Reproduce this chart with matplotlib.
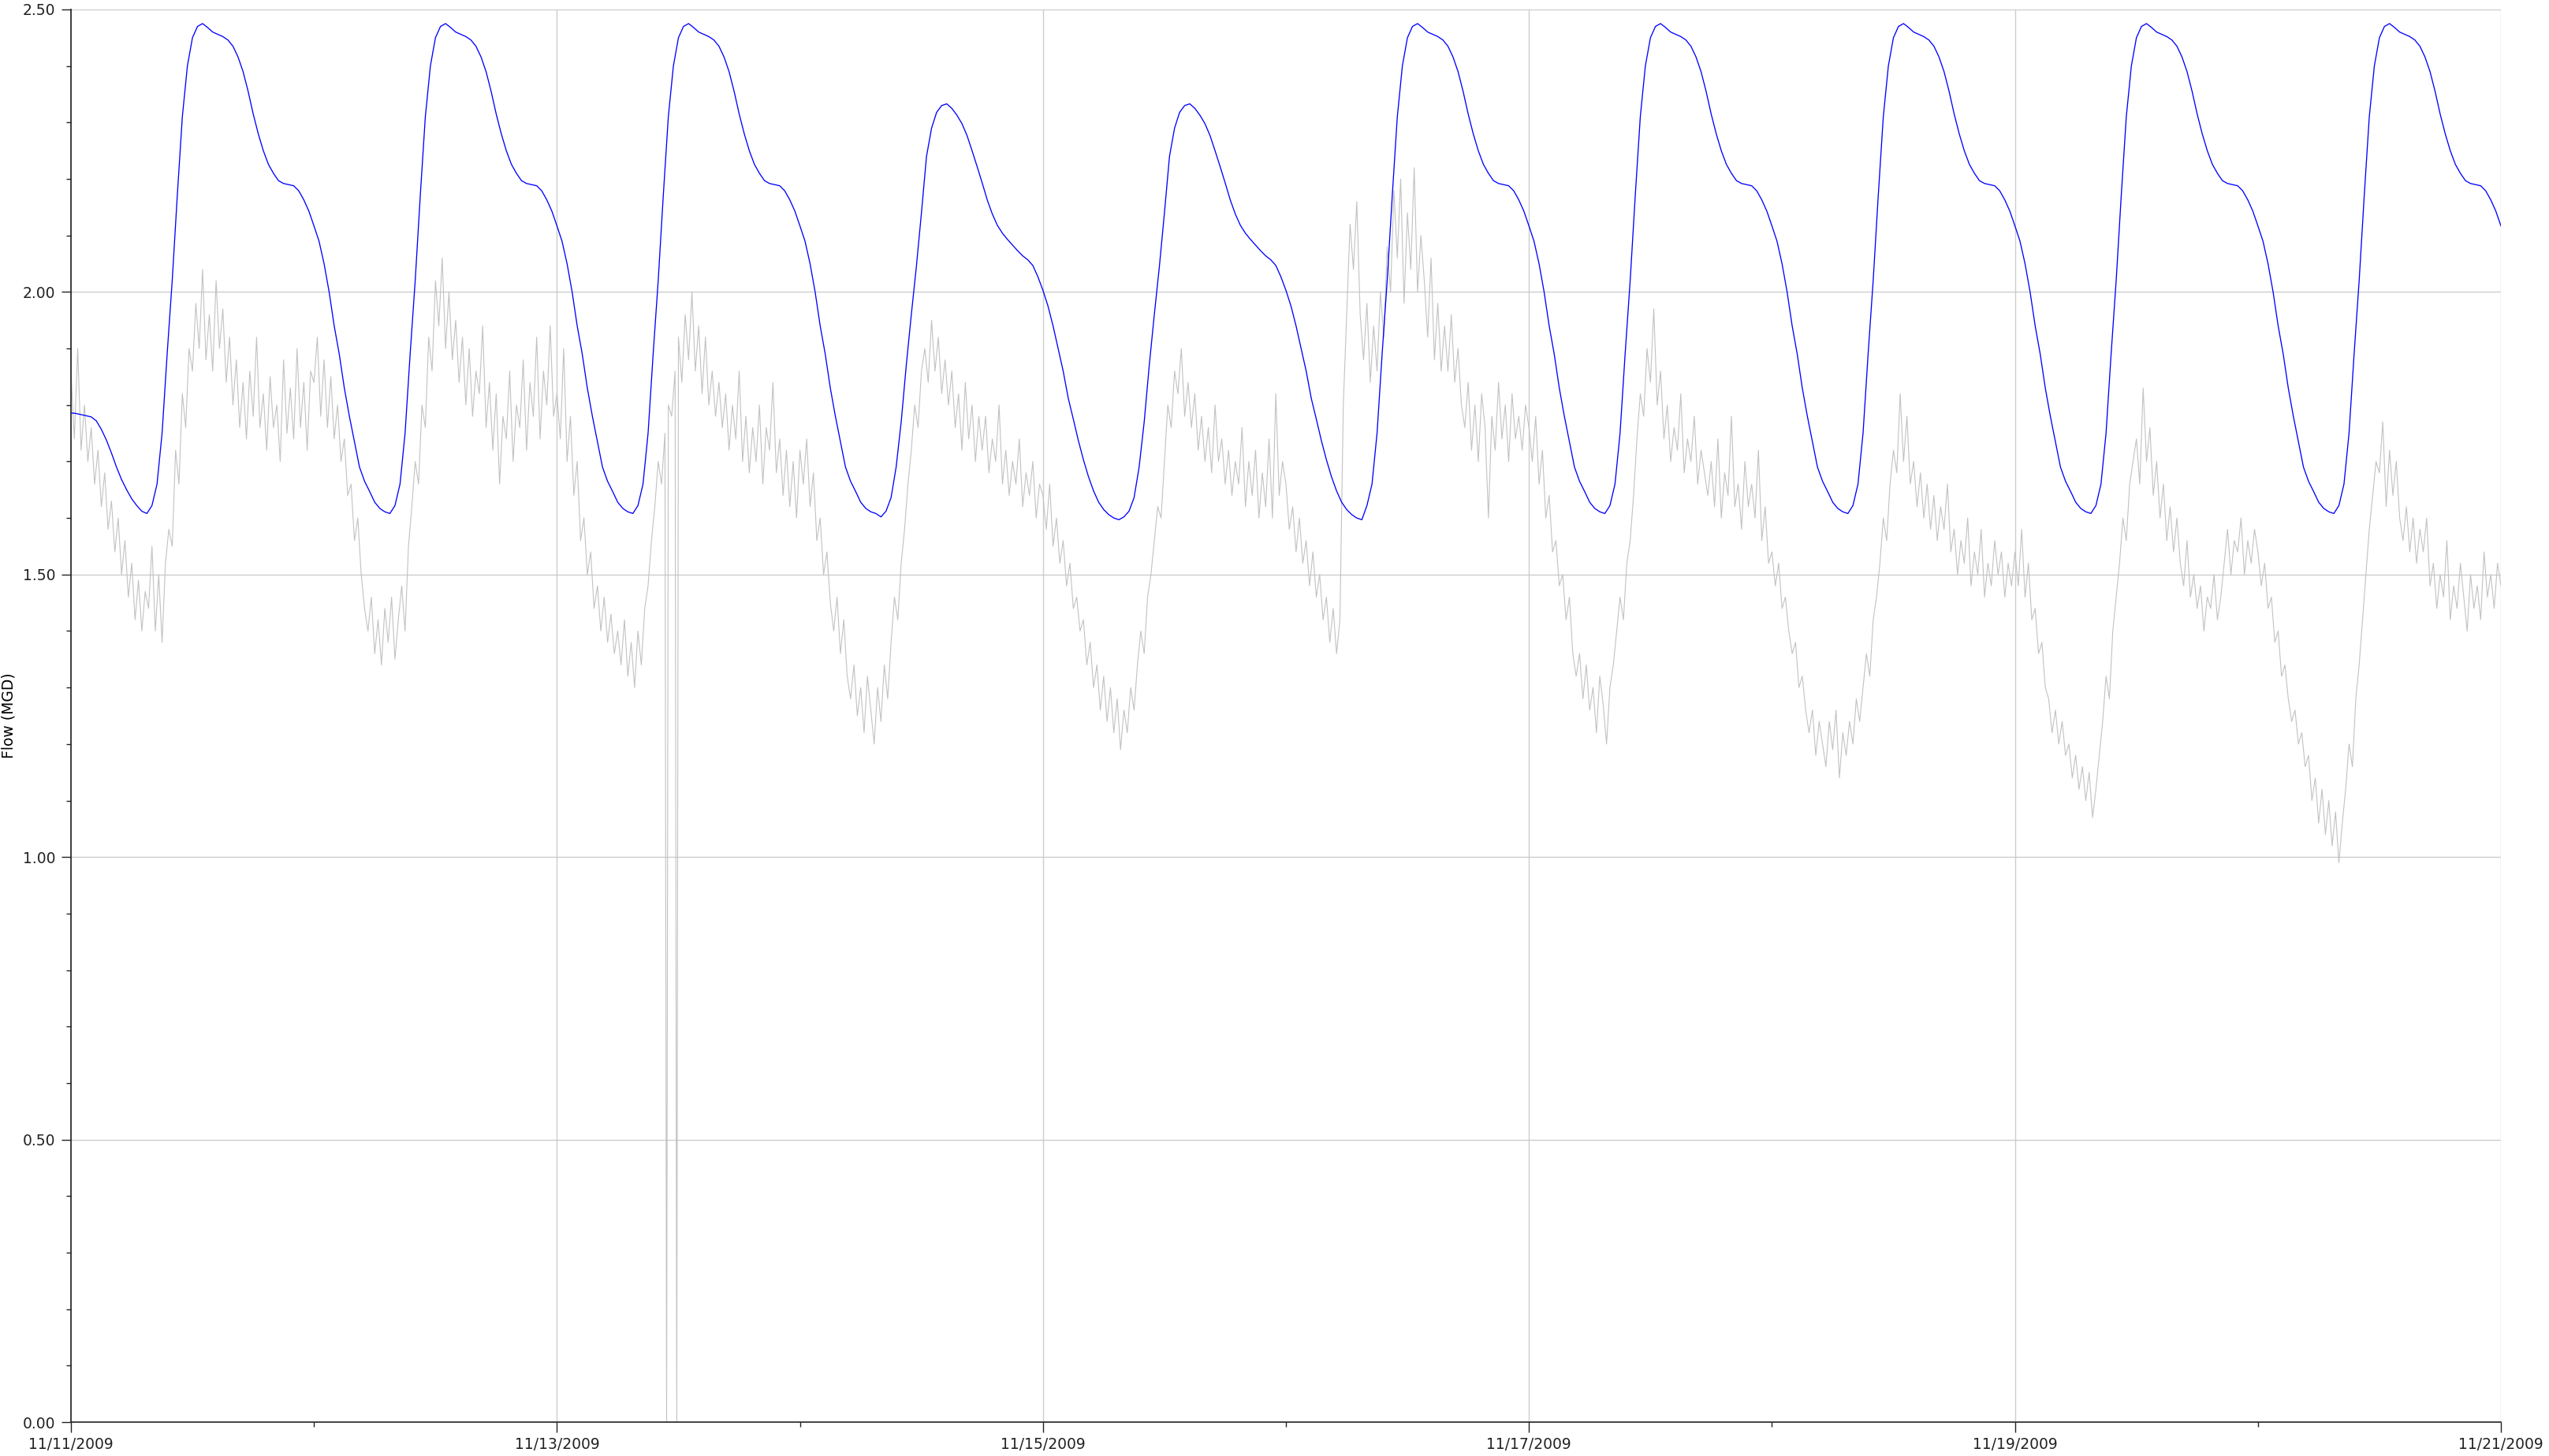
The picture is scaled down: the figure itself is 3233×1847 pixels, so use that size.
import pandas as pd
import numpy as np
import matplotlib
matplotlib.use('Agg')
import matplotlib.pyplot as plt
import matplotlib.dates as mdates
from matplotlib.ticker import MultipleLocator, FormatStrFormatter

start = pd.Timestamp('2009-11-11')
end = pd.Timestamp('2009-11-21')

# modelled flow (blue), half-hour values: night part (00:00-07:30) and day part (08:00-23:30)
blue_first_night = [1.786, 1.785, 1.783, 1.781, 1.779, 1.772, 1.757, 1.738, 1.715, 1.690, 1.668, 1.650, 1.634, 1.622, 1.612, 1.608]
blue_wkday_night = [2.117, 2.090, 2.050, 2.000, 1.940, 1.890, 1.830, 1.780, 1.735, 1.690, 1.665, 1.647, 1.628, 1.617, 1.611, 1.608]
blue_wkend_night = [2.003, 1.975, 1.940, 1.900, 1.860, 1.812, 1.775, 1.737, 1.703, 1.673, 1.648, 1.628, 1.615, 1.606, 1.600, 1.597]
blue_wkday_day = [1.622, 1.660, 1.750, 1.890, 2.020, 2.170, 2.310, 2.400, 2.450, 2.470, 2.475, 2.468, 2.460, 2.456, 2.452, 2.446,
                  2.435, 2.416, 2.390, 2.355, 2.315, 2.280, 2.250, 2.226, 2.210, 2.197, 2.192, 2.190, 2.188, 2.179, 2.163, 2.143]
blue_wkend_day = [1.602, 1.612, 1.636, 1.690, 1.770, 1.870, 1.960, 2.045, 2.140, 2.240, 2.290, 2.318, 2.330, 2.333, 2.325, 2.313,
                  2.298, 2.277, 2.250, 2.222, 2.193, 2.163, 2.138, 2.118, 2.104, 2.093, 2.083, 2.073, 2.064, 2.057, 2.047, 2.027]
blue_end = 2.117

night_type = ['first', 'wkday', 'wkday', 'wkday', 'wkend', 'wkend', 'wkday', 'wkday', 'wkday', 'wkday']
day_type = ['wkday', 'wkday', 'wkday', 'wkend', 'wkend', 'wkday', 'wkday', 'wkday', 'wkday', 'wkday']

# measured flow (gray), 20-minute values per day
gray_d0 = [1.86, 1.74, 1.90, 1.72, 1.80, 1.70, 1.76, 1.66, 1.72, 1.62, 1.68, 1.58, 1.63, 1.54, 1.60,
           1.50, 1.56, 1.46, 1.52, 1.42, 1.49, 1.40, 1.47, 1.44, 1.55, 1.40, 1.50, 1.38, 1.52,
           1.58, 1.55, 1.72, 1.66, 1.82, 1.76, 1.90, 1.86, 1.98, 1.90, 2.04, 1.88, 1.96, 1.86, 2.02, 1.90, 1.97, 1.84, 1.92,
           1.80, 1.88, 1.76, 1.84, 1.74, 1.86, 1.78, 1.92, 1.76, 1.82, 1.72, 1.85, 1.76, 1.80, 1.70, 1.88, 1.75, 1.83, 1.74, 1.90, 1.76, 1.84, 1.72, 1.86]
gray_d1 = [1.84, 1.92, 1.78, 1.88, 1.76, 1.85, 1.74, 1.80, 1.70, 1.74, 1.64, 1.66, 1.56, 1.60, 1.50,
           1.44, 1.40, 1.46, 1.36, 1.42, 1.34, 1.44, 1.38, 1.46, 1.35, 1.42, 1.48, 1.40,
           1.55, 1.62, 1.70, 1.66, 1.80, 1.76, 1.92, 1.86, 2.02, 1.94, 2.06, 1.90, 2.00, 1.88,
           1.95, 1.84, 1.92, 1.80, 1.90, 1.78, 1.86, 1.82, 1.94,
           1.76, 1.84, 1.72, 1.82, 1.66, 1.78, 1.74, 1.86, 1.70, 1.80, 1.76, 1.88, 1.72, 1.84, 1.78, 1.92, 1.74, 1.86, 1.80, 1.94, 1.78]
gray_d2 = [1.82, 1.74, 1.90, 1.70, 1.78, 1.64, 1.70, 1.56, 1.60, 1.50, 1.54, 1.44, 1.48, 1.40, 1.46, 1.38, 1.43,
           1.36, 1.40, 1.34, 1.42, 1.32, 1.38, 1.30, 1.40, 1.34, 1.44, 1.48, 1.56, 1.62, 1.70, 1.66, 1.75, 1.80, 1.78, 1.86,
           1.92, 1.84, 1.96, 1.88, 2.00, 1.86, 1.94, 1.82, 1.92, 1.80, 1.86, 1.78,
           1.84, 1.76, 1.82, 1.72, 1.80, 1.74, 1.86, 1.70, 1.78, 1.68,
           1.76, 1.70, 1.80, 1.66, 1.76, 1.72, 1.84, 1.68, 1.74, 1.64, 1.72, 1.62, 1.70, 1.60]
gray_d3 = [1.72, 1.66, 1.74, 1.62, 1.68, 1.56, 1.60, 1.50, 1.54, 1.45, 1.40, 1.46, 1.36, 1.42, 1.32,
           1.28, 1.34, 1.25, 1.30, 1.22, 1.32, 1.26, 1.20, 1.30, 1.24, 1.34, 1.28,
           1.38, 1.46, 1.42, 1.52, 1.58, 1.66, 1.72, 1.80, 1.76, 1.86, 1.90, 1.84, 1.95, 1.86, 1.92, 1.82, 1.88, 1.80,
           1.86, 1.76, 1.82, 1.72, 1.84, 1.74, 1.80, 1.70, 1.78, 1.72,
           1.78, 1.68, 1.74, 1.70, 1.80, 1.66, 1.72, 1.64, 1.70, 1.66, 1.74, 1.62, 1.68, 1.64, 1.70, 1.60, 1.66]
gray_d4 = [1.64, 1.58, 1.66, 1.55, 1.60, 1.52, 1.56, 1.48, 1.52, 1.44, 1.46, 1.40, 1.42,
           1.34, 1.38, 1.30, 1.34, 1.26, 1.32, 1.24, 1.30, 1.22, 1.28, 1.19, 1.26, 1.22, 1.30, 1.26,
           1.34, 1.40, 1.36, 1.46, 1.50, 1.56, 1.62, 1.60, 1.70, 1.80, 1.76, 1.86, 1.82, 1.90, 1.78, 1.84, 1.76,
           1.82, 1.72, 1.78, 1.70, 1.76, 1.68, 1.80, 1.70, 1.74, 1.66,
           1.72, 1.64, 1.70, 1.66, 1.76, 1.62, 1.70, 1.64, 1.72, 1.60, 1.68, 1.62, 1.74, 1.60, 1.82, 1.64, 1.70]
gray_d5 = [1.66, 1.58, 1.62, 1.54, 1.60, 1.52, 1.56, 1.48, 1.54, 1.46, 1.50, 1.42, 1.46, 1.38, 1.44, 1.36,
           1.42, 1.80, 1.96, 2.12, 2.04, 2.16, 1.96, 1.88, 1.98, 1.84, 1.94, 1.86, 2.00, 1.92,
           2.08, 2.00, 2.18, 2.06, 2.20, 1.98, 2.14, 2.04, 2.22, 2.00, 2.10,
           2.02, 1.92, 2.06, 1.88, 1.98, 1.86, 1.94, 1.86, 1.96, 1.84, 1.90,
           1.80, 1.76, 1.84, 1.72, 1.80, 1.70, 1.82, 1.76, 1.60, 1.78, 1.72, 1.84, 1.74, 1.80, 1.70, 1.82, 1.74, 1.78, 1.72, 1.80]
gray_d6 = [1.76, 1.70, 1.78, 1.66, 1.72, 1.60, 1.64, 1.54, 1.56, 1.48, 1.50, 1.42, 1.46, 1.36,
           1.32, 1.36, 1.28, 1.34, 1.26, 1.30, 1.22, 1.32, 1.27, 1.20, 1.30, 1.34,
           1.40, 1.46, 1.42, 1.52, 1.56, 1.64, 1.74, 1.82, 1.78, 1.90, 1.84, 1.97, 1.80, 1.86,
           1.74, 1.80, 1.70, 1.76, 1.72, 1.82, 1.68, 1.74, 1.70, 1.78, 1.66, 1.72, 1.68,
           1.64, 1.70, 1.62, 1.74, 1.60, 1.68, 1.64, 1.78, 1.62, 1.66, 1.58, 1.70, 1.62, 1.66, 1.60, 1.72, 1.56, 1.62, 1.52]
gray_d7 = [1.54, 1.48, 1.52, 1.44, 1.46, 1.40, 1.36, 1.38, 1.30, 1.32, 1.26,
           1.22, 1.26, 1.18, 1.24, 1.20, 1.16, 1.24, 1.19, 1.26, 1.14, 1.22, 1.18, 1.24, 1.20, 1.28, 1.24,
           1.30, 1.36, 1.32, 1.42, 1.46, 1.52, 1.60, 1.56, 1.66, 1.72, 1.68, 1.82, 1.70, 1.78, 1.66,
           1.70, 1.62, 1.68, 1.60, 1.66, 1.58, 1.64, 1.56, 1.62, 1.58, 1.66, 1.54,
           1.58, 1.50, 1.56, 1.52, 1.60, 1.48, 1.54, 1.50, 1.58, 1.46, 1.52, 1.48, 1.56, 1.50, 1.54, 1.46, 1.52, 1.48]
gray_d8 = [1.54, 1.48, 1.58, 1.46, 1.52, 1.42, 1.44, 1.36, 1.38, 1.30, 1.28, 1.22, 1.26, 1.20, 1.24, 1.18,
           1.20, 1.14, 1.18, 1.12, 1.16, 1.10, 1.15, 1.07, 1.12, 1.18, 1.24, 1.32, 1.28, 1.40, 1.46,
           1.52, 1.60, 1.56, 1.66, 1.70, 1.74, 1.66, 1.83, 1.70, 1.76,
           1.64, 1.70, 1.60, 1.66, 1.56, 1.62, 1.54, 1.60, 1.52,
           1.48, 1.56, 1.46, 1.50, 1.44, 1.48, 1.40, 1.46, 1.44, 1.50, 1.42, 1.46,
           1.52, 1.58, 1.50, 1.56, 1.54, 1.60, 1.50, 1.56, 1.52, 1.58]
gray_d9 = [1.54, 1.48, 1.52, 1.44, 1.46, 1.38, 1.40, 1.32, 1.34, 1.28, 1.24, 1.26, 1.20, 1.22, 1.16, 1.18,
           1.10, 1.14, 1.06, 1.12, 1.04, 1.10, 1.02, 1.08, 0.99, 1.06, 1.12,
           1.20, 1.16, 1.28, 1.34, 1.42, 1.50, 1.58, 1.64, 1.70, 1.68, 1.77, 1.62, 1.72, 1.64, 1.70,
           1.60, 1.56, 1.62, 1.54, 1.60, 1.52, 1.58, 1.54, 1.60,
           1.48, 1.52, 1.44, 1.50, 1.46, 1.56, 1.42, 1.48, 1.44, 1.52, 1.46, 1.40, 1.50, 1.44, 1.48, 1.42, 1.54, 1.46, 1.50, 1.44, 1.52]
gray_end = 1.48

# meter dropouts on 11/13
gray_drop_times = ['2009-11-13 10:50', '2009-11-13 11:50']
gray_drop_values = [0.0, 0.0]

# --- build the series ---
nights = {'first': blue_first_night, 'wkday': blue_wkday_night, 'wkend': blue_wkend_night}
days = {'wkday': blue_wkday_day, 'wkend': blue_wkend_day}
blue_t, blue_v = [], []
for i in range(10):
    vals = nights[night_type[i]] + days[day_type[i]]
    d0 = start + pd.Timedelta(days=i)
    for k, v in enumerate(vals):
        blue_t.append(d0 + pd.Timedelta(minutes=30 * k))
        blue_v.append(v)
blue_t.append(end)
blue_v.append(blue_end)

gray_days = [gray_d0, gray_d1, gray_d2, gray_d3, gray_d4, gray_d5, gray_d6, gray_d7, gray_d8, gray_d9]
gray_t, gray_v = [], []
for i, vals in enumerate(gray_days):
    d0 = start + pd.Timedelta(days=i)
    n = len(vals)
    for k, v in enumerate(vals):
        gray_t.append(d0 + pd.Timedelta(days=k / n))
        gray_v.append(v)
gray_t.append(end)
gray_v.append(gray_end)
gray = pd.Series(gray_v, index=pd.DatetimeIndex(gray_t))
drops = pd.Series(gray_drop_values, index=pd.to_datetime(gray_drop_times))
gray = pd.concat([gray, drops]).sort_index()

# --- plot ---
plt.rcParams['font.family'] = ['DejaVu Sans']
fig = plt.figure(figsize=(32.33, 18.47), dpi=100)
ax = fig.add_axes([90 / 3233, 43 / 1847, (3172 - 90) / 3233, (1804 - 12) / 1847])

ax.plot(gray.index, gray.values, color='#c2c2c2', lw=0.8, zorder=2)
ax.plot(blue_t, blue_v, color='#0000ff', lw=0.95, zorder=3)

ax.set_xlim(start, end)
ax.set_ylim(0, 2.5)

ax.xaxis.set_major_locator(mdates.DayLocator(interval=2))
ax.xaxis.set_minor_locator(mdates.DayLocator())
ax.xaxis.set_major_formatter(mdates.DateFormatter('%m/%d/%Y'))
ax.yaxis.set_major_locator(MultipleLocator(0.5))
ax.yaxis.set_minor_locator(MultipleLocator(0.1))
ax.yaxis.set_major_formatter(FormatStrFormatter('%.2f'))

ax.grid(True, which='major', color='#cccccc', lw=1.0, zorder=0)
ax.set_axisbelow(True)
for s in ['top', 'right']:
    ax.spines[s].set_visible(False)
for s in ['left', 'bottom']:
    ax.spines[s].set_color('#222222')
    ax.spines[s].set_linewidth(1.2)

ax.tick_params(which='major', direction='out', length=9, width=1.0, labelsize=13.5, pad=5, colors='#222222')
ax.tick_params(which='minor', direction='out', length=4, width=1.0, colors='#222222')

ax.set_ylabel('Flow (MGD)', fontsize=13.5)
ax.yaxis.set_label_coords(-0.0225, 0.5)

fig.savefig('out.png', dpi=100)
